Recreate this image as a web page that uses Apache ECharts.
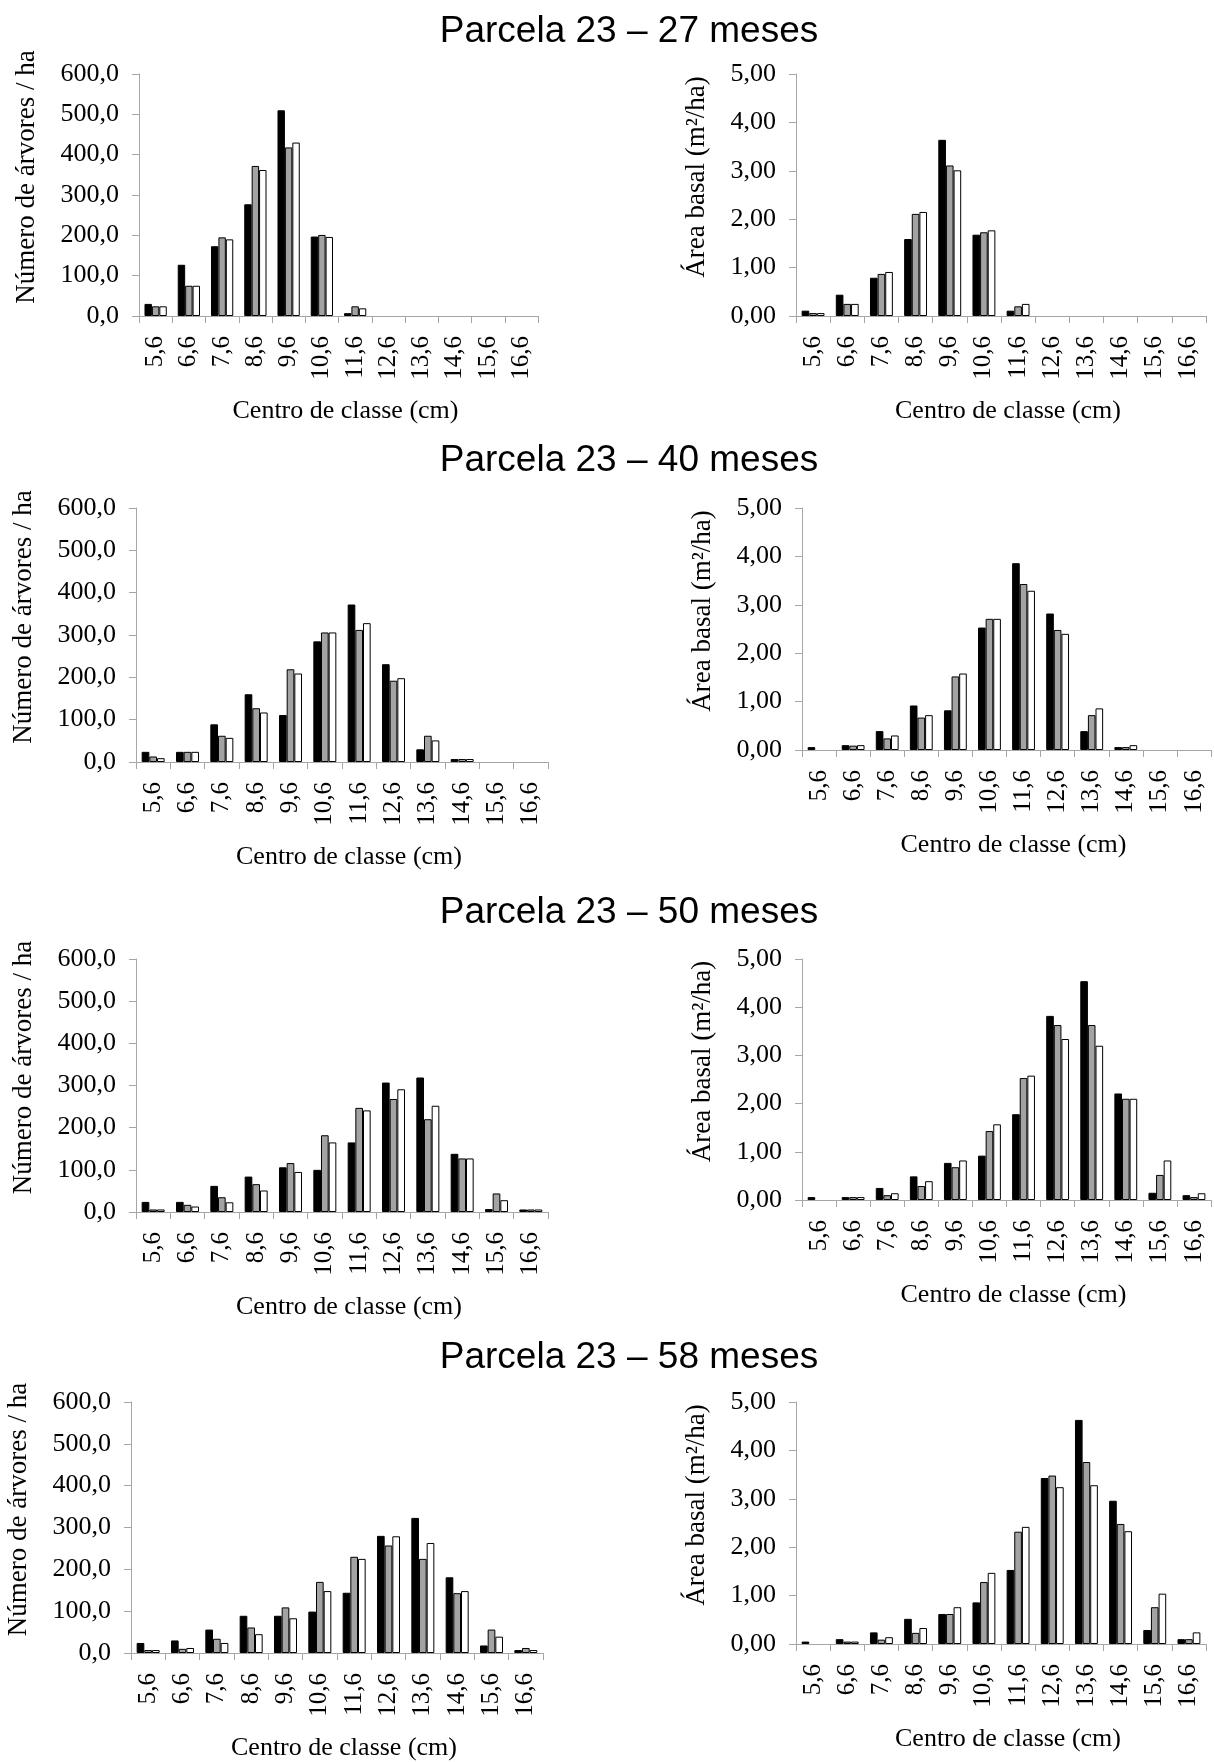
<!DOCTYPE html>
<html>
<head>
<meta charset="utf-8">
<script src="https://cdn.jsdelivr.net/npm/echarts@6/dist/echarts.min.js"></script>
<style>
html,body{margin:0;padding:0;background:#fff;}
#chart{width:1214px;height:1762px;}
</style>
</head>
<body>
<div id="chart"></div>
<script>
// ---- Data ----
const categories = ['5,6','6,6','7,6','8,6','9,6','10,6','11,6','12,6','13,6','14,6','15,6','16,6'];
const titles = ['Parcela 23 – 27 meses','Parcela 23 – 40 meses','Parcela 23 – 50 meses','Parcela 23 – 58 meses'];
const nameX = 'Centro de classe (cm)';
const nameYLeft = 'Número de árvores / ha';
const nameYRight = 'Área basal (m²/ha)';

// Número de árvores / ha (three series per panel: black, gray, white)
const n27_black = [30,127,173,277,510,197,7,0,0,0,0,0];
const n27_gray  = [24,75,195,372,418,201,24,0,0,0,0,0];
const n27_white = [24,75,190,362,430,196,19,0,0,0,0,0];

const n40_black = [24,24,89,160,111,285,372,231,30,7,0,0];
const n40_gray  = [13,24,62,127,219,306,312,192,62,7,0,0];
const n40_white = [9,24,57,117,209,306,328,198,51,7,0,0];

const n50_black = [24,24,62,84,106,100,165,307,319,138,7,6];
const n50_gray  = [6,17,35,66,116,182,247,268,220,127,44,6];
const n50_white = [6,13,23,51,95,165,241,291,252,127,28,6];

const n58_black = [24,30,56,89,89,99,144,280,323,181,18,7];
const n58_gray  = [7,10,34,61,109,170,230,257,225,143,56,12];
const n58_white = [7,12,24,45,83,148,225,279,263,148,39,7];

// Área basal (m²/ha)
const g27_black = [0.11,0.44,0.79,1.59,3.64,1.68,0.11,0,0,0,0,0];
const g27_gray  = [0.06,0.25,0.87,2.11,3.11,1.73,0.20,0,0,0,0,0];
const g27_white = [0.06,0.25,0.91,2.15,3.01,1.77,0.25,0,0,0,0,0];

const g40_black = [0.06,0.10,0.39,0.92,0.82,2.53,3.86,2.82,0.39,0.06,0,0];
const g40_gray  = [0,0.09,0.24,0.67,1.52,2.71,3.43,2.48,0.72,0.06,0,0];
const g40_white = [0,0.10,0.30,0.72,1.58,2.71,3.29,2.40,0.86,0.10,0,0];

const g50_black = [0.06,0.06,0.25,0.49,0.77,0.92,1.78,3.82,4.54,2.21,0.15,0.10];
const g50_gray  = [0,0.06,0.10,0.29,0.68,1.43,2.53,3.63,3.63,2.10,0.52,0.06];
const g50_white = [0,0.06,0.14,0.39,0.82,1.57,2.58,3.34,3.20,2.10,0.82,0.14];

const g58_black = [0.05,0.10,0.24,0.52,0.62,0.86,1.53,3.43,4.63,2.96,0.29,0.10];
const g58_gray  = [0,0.05,0.09,0.23,0.62,1.28,2.32,3.48,3.76,2.48,0.76,0.10];
const g58_white = [0,0.05,0.14,0.33,0.76,1.47,2.42,3.24,3.28,2.33,1.04,0.24];

const leftTicks = {min:0, max:600, interval:100, decimals:1};
const rightTicks = {min:0, max:5, interval:1, decimals:2};

// ---- Layout ----
const panels = [
  {left:[n27_black,n27_gray,n27_white], right:[g27_black,g27_gray,g27_white],
   gl:{left:139,top:74,width:399,height:242}, gr:{left:796,top:74,width:410,height:242}, titleTop:8},
  {left:[n40_black,n40_gray,n40_white], right:[g40_black,g40_gray,g40_white],
   gl:{left:136,top:508,width:412,height:254}, gr:{left:802,top:508,width:409,height:242}, titleTop:437},
  {left:[n50_black,n50_gray,n50_white], right:[g50_black,g50_gray,g50_white],
   gl:{left:136,top:959,width:412,height:253}, gr:{left:802,top:959,width:409,height:241}, titleTop:889},
  {left:[n58_black,n58_gray,n58_white], right:[g58_black,g58_gray,g58_white],
   gl:{left:131,top:1402,width:412,height:254}, gr:{left:796,top:1402,width:410,height:242}, titleTop:1334}
];

const fills = ['#000000','#a3a3a3','#ffffff'];
const serif = "'Liberation Serif','Times New Roman',serif";
const sans = "'Liberation Sans',Arial,sans-serif";
const axisGray = '#a6a6a6';

const grid = [], xAxis = [], yAxis = [], series = [], title = [];

function fmt(dec){ return v => v.toFixed(dec).replace('.', ','); }

panels.forEach((p, i) => {
  title.push({text: titles[i], left: 624, top: p.titleTop, textAlign: 'center',
    textStyle:{fontFamily: sans, fontSize: 37, fontWeight: 'normal', color:'#000'}});
  [['left', p.gl, leftTicks, nameYLeft, 99], ['right', p.gr, rightTicks, nameYRight, 86]].forEach(([side, g, ticks, yname, ygap]) => {
    const gi = grid.length;
    grid.push({left: g.left, top: g.top, width: g.width, height: g.height, containLabel: false});
    xAxis.push({
      type:'category', gridIndex: gi, data: categories, boundaryGap: true,
      axisLine:{show:true, lineStyle:{color: axisGray, width:1}},
      axisTick:{show:true, alignWithLabel:false, length:7, lineStyle:{color: axisGray}},
      axisLabel:{rotate:90, margin:20, interval:0,
        fontFamily: serif, fontSize: 25, color:'#000'},
      name: nameX, nameLocation:'middle', nameGap: 82,
      nameTextStyle:{fontFamily: serif, fontSize: 26, color:'#000', padding:[0,0,0,14]}
    });
    yAxis.push({
      type:'value', gridIndex: gi, min: ticks.min, max: ticks.max, interval: ticks.interval,
      splitLine:{show:false},
      axisLine:{show:true, lineStyle:{color: axisGray, width:1}},
      axisTick:{show:true, length:7, lineStyle:{color: axisGray}},
      axisLabel:{formatter: fmt(ticks.decimals), margin:20, fontFamily: serif, fontSize: 26, color:'#000'},
      name: yname, nameLocation:'middle', nameGap: ygap,
      nameTextStyle:{fontFamily: serif, fontSize: 27, color:'#000', padding:[0,0,0,36]}
    });
    const sets = side === 'left' ? p.left : p.right;
    sets.forEach((arr, k) => {
      series.push({
        type:'bar', xAxisIndex: gi, yAxisIndex: gi,
        data: arr.map(v => v === 0 ? null : v),
        barGap:'0%', barCategoryGap:'33%',
        itemStyle:{color: fills[k], borderColor:'#000', borderWidth:1},
        emphasis:{disabled:true}, animation:false
      });
    });
  });
});

const chart = echarts.init(document.getElementById('chart'), null, {renderer:'canvas'});
chart.setOption({animation:false, backgroundColor:'#fff', title, grid, xAxis, yAxis, series});
</script>
</body>
</html>
